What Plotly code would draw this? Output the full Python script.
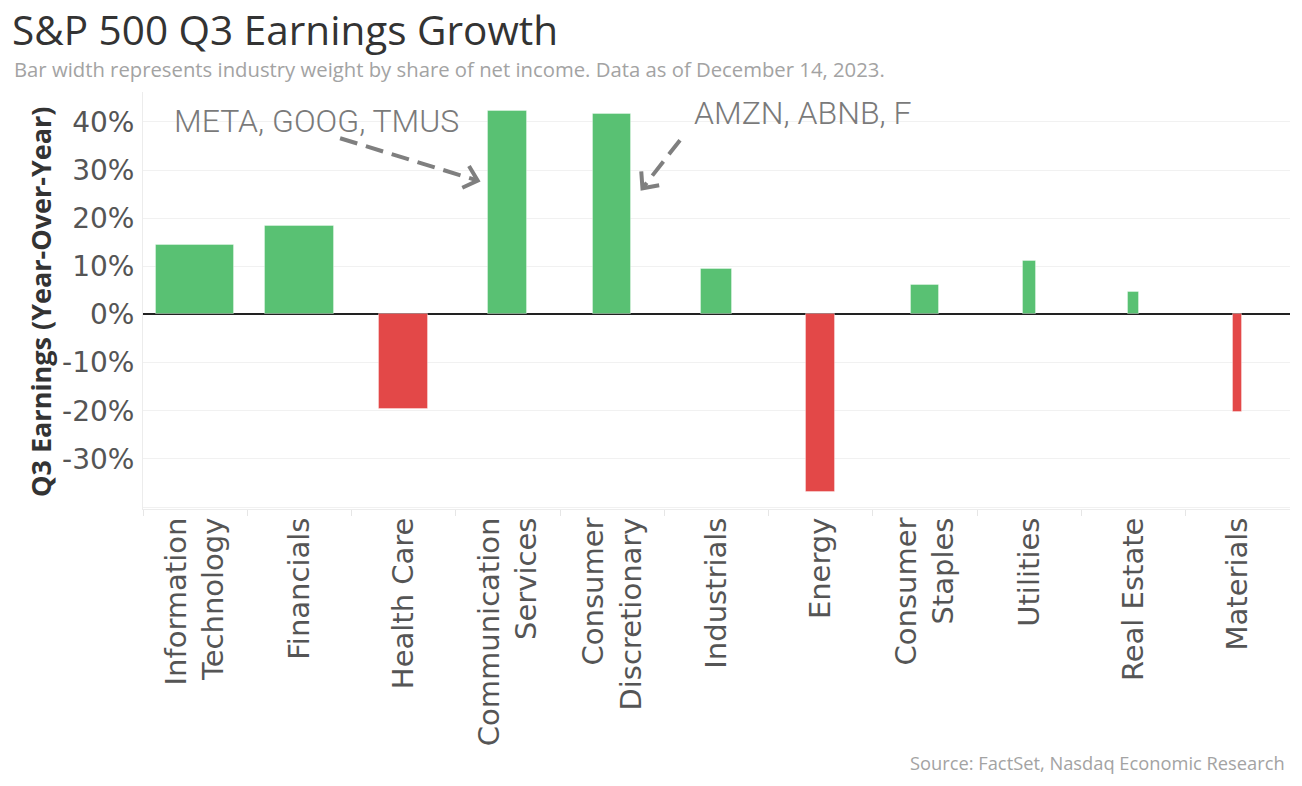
import math
import plotly.graph_objects as go

# ---- data ----
sectors = ["Information<br>Technology", "Financials", "Health Care", "Communication<br>Services",
           "Consumer<br>Discretionary", "Industrials", "Energy", "Consumer<br>Staples",
           "Utilities", "Real Estate", "Materials"]
growth = [14.5, 18.3, -19.7, 42.2, 41.6, 9.5, -36.9, 6.1, 11.2, 4.6, -20.2]   # Q3 YoY earnings growth, %
income_share = [19.9, 17.6, 12.3, 9.9, 9.6, 8.1, 7.4, 6.9, 3.3, 2.8, 2.3]     # share of net income, %
y_ticks = [-40, -30, -20, -10, 0, 10, 20, 30, 40]
y_tick_text = ["", "-30%", "-20%", "-10%", "0%", "10%", "20%", "30%", "40%"]

GREEN = "#59C173"
RED = "#E34848"
GREY_ARROW = "#7f7f7f"

W, H = 1302, 786
M = dict(l=143, r=12, t=92, b=277)
X_RANGE = [-0.5, len(sectors) - 0.5]
Y_RANGE = [-40.4, 46.2]

width_scale = 3.78  # bar width (in category units) per 100% of net income share
xs = list(range(len(sectors)))
widths = [s / 100 * width_scale for s in income_share]
colors = [GREEN if v >= 0 else RED for v in growth]

fig = go.Figure()
fig.add_trace(go.Bar(
    x=xs, y=growth, width=widths,
    marker=dict(color=colors, line=dict(color="rgba(255,255,255,0.35)", width=1)),
    hoverinfo="skip", showlegend=False,
))

# dashed annotation arrows (data coordinates): start -> tip
arrows = [
    dict(x=[1.39, 2.71], y=[36.6, 27.8]),
    dict(x=[4.65, 4.29], y=[36.2, 26.2]),
]
px_per_x = (W - M["l"] - M["r"]) / (X_RANGE[1] - X_RANGE[0])
px_per_y = (H - M["t"] - M["b"]) / (Y_RANGE[1] - Y_RANGE[0])
head_len, head_ang = 17, math.radians(42)
for a in arrows:
    fig.add_trace(go.Scatter(
        x=a["x"], y=a["y"], mode="lines",
        line=dict(color=GREY_ARROW, width=4, dash="18px,9px"),
        hoverinfo="skip", showlegend=False,
    ))
    # open chevron head at the tip, built in screen space then mapped back
    dx = (a["x"][1] - a["x"][0]) * px_per_x
    dy = (a["y"][1] - a["y"][0]) * px_per_y
    ang = math.atan2(dy, dx)
    wx, wy = [], []
    for s in (1, None, -1):
        if s is None:
            wx.append(a["x"][1]); wy.append(a["y"][1]); continue
        t = ang + math.pi + s * head_ang
        wx.append(a["x"][1] + head_len * math.cos(t) / px_per_x)
        wy.append(a["y"][1] + head_len * math.sin(t) / px_per_y)
    fig.add_trace(go.Scatter(
        x=wx, y=wy, mode="lines", line=dict(color=GREY_ARROW, width=4),
        hoverinfo="skip", showlegend=False,
    ))

fig.update_layout(
    width=W, height=H,
    margin=M,
    paper_bgcolor="white", plot_bgcolor="white",
    bargap=0,
    title=dict(text="S&P 500 Q3 Earnings Growth", x=12 / W, xref="container", xanchor="left",
               y=1 - 31 / H, yref="container", yanchor="middle",
               font=dict(family="Open Sans", size=40.5, color="#333333")),
    font=dict(family="DejaVu Sans"),
)

fig.update_xaxes(
    range=X_RANGE,
    tickmode="array", tickvals=xs, ticktext=sectors,
    tickangle=-90, tickfont=dict(family="DejaVu Sans", size=29, color="#555555"),
    ticks="", showgrid=False, zeroline=False,
    showline=True, linecolor="#ececec", linewidth=1,
    minor=dict(tickmode="array", tickvals=[i + 0.5 for i in xs[:-1]] + [-0.5],
               ticks="outside", ticklen=6, tickcolor="#e6e6e6", tickwidth=1),
    ticklabelstandoff=-4,
    fixedrange=True,
)
fig.update_yaxes(
    range=Y_RANGE,
    tickmode="array", tickvals=y_ticks, ticktext=y_tick_text,
    tickfont=dict(family="DejaVu Sans", size=28, color="#555555"),
    showgrid=True, gridcolor="#f1f1f1", gridwidth=1,
    zeroline=True, zerolinecolor="#222222", zerolinewidth=2,
    showline=True, linecolor="#ececec", linewidth=1,
    ticks="", ticklabelstandoff=2,
    fixedrange=True,
)

annos = [
    dict(text="Bar width represents industry weight by share of net income. Data as of December 14, 2023.",
         x=(12 - 143) / 1147, y=1 + (92 - 69) / 417, xref="paper", yref="paper",
         xanchor="left", yanchor="middle", showarrow=False,
         font=dict(family="Open Sans", size=20.3, color="#a3a3a3")),
    dict(text="Source: FactSet, Nasdaq Economic Research",
         x=(1287 - 143) / 1147, y=-(762 - 509) / 417, xref="paper", yref="paper",
         xanchor="right", yanchor="middle", showarrow=False,
         font=dict(family="Open Sans", size=18.3, color="#a3a3a3")),
    dict(text="<b>Q3 Earnings (Year-Over-Year)</b>", textangle=-90,
         x=(40 - 143) / 1147, y=(509 - 302) / 417, xref="paper", yref="paper",
         xanchor="center", yanchor="middle", showarrow=False,
         font=dict(family="Open Sans", size=27, color="#333333")),
    dict(text="META, GOOG, TMUS", x=1.164, y=40.2, xref="x", yref="y",
         xanchor="center", yanchor="middle", showarrow=False,
         font=dict(family="Roboto", size=32, color="#7a7a7a", weight=300)),
    dict(text="AMZN, ABNB, F", x=5.82, y=41.8, xref="x", yref="y",
         xanchor="center", yanchor="middle", showarrow=False,
         font=dict(family="Roboto", size=32, color="#7a7a7a", weight=300)),
]
fig.update_layout(annotations=annos)

fig.write_html("out.html", config={"displayModeBar": False},
               post_script="document.body.style.margin='0';")
